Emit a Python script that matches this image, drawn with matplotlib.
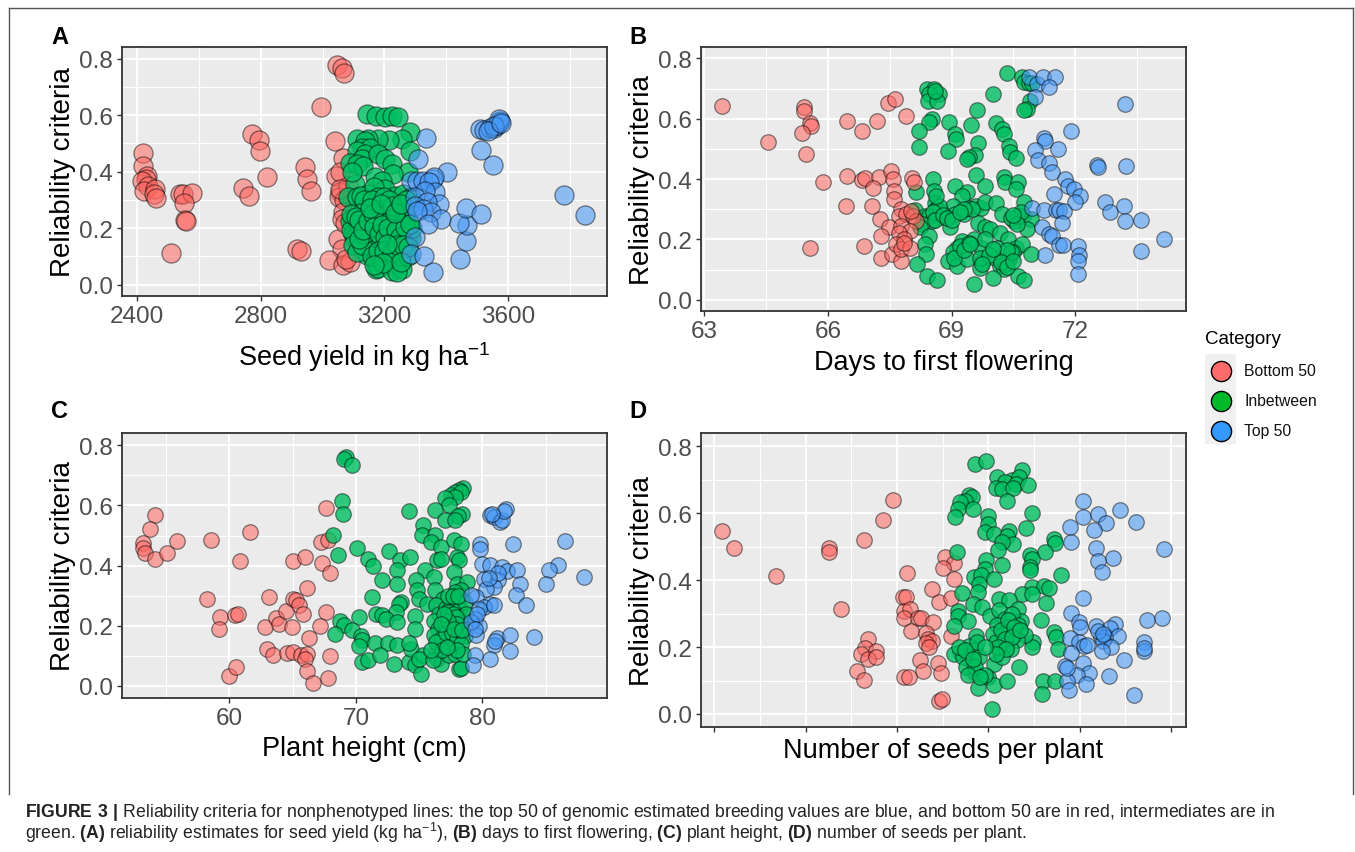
import matplotlib
matplotlib.use('Agg')
import matplotlib.pyplot as plt
from matplotlib.lines import Line2D

plt.rcParams['font.family'] = ['Liberation Sans', 'DejaVu Sans']
plt.rcParams['mathtext.fontset'] = 'custom'
plt.rcParams['mathtext.rm'] = 'Liberation Sans'
plt.rcParams['mathtext.bf'] = 'Liberation Sans:bold'

# values: (trait value, reliability)
yield_bottom = [(2420,.466),(2420,.42),(2433,.385),(2428,.375),(2415,.367),(2437,.35),(2424,.333),(2459,.34),(2454,.32),(2463,.307),
                (2540,.32),(2548,.32),(2578,.323),(2552,.29),(2556,.23),(2558,.226),(2510,.113),(2771,.533),(2795,.513),(2797,.472),
                (2822,.382),(2742,.341),(2763,.313),(2943,.415),(2951,.374),(2963,.333),(2916,.125),(2931,.119),(3048,.776),(3063,.765),
                (3070,.75),(2994,.627),(3039,.509),(3067,.45),(3042,.386),(3057,.40),(3057,.327),(3054,.31),(3070,.30),(3067,.256),
                (3063,.233),(3051,.162),(3064,.127),(3022,.086),(3067,.07),(3089,.08),(3076,.092),(3082,.35),(3072,.22),(3058,.34)]
yield_mid = [(3145,.603),(3173,.597),(3202,.595),(3224,.597),(3245,.594),(3283,.541),(3256,.515),(3215,.511),(3181,.517),(3148,.517),
             (3111,.515),(3138,.509),(3127,.485),(3154,.485),(3111,.474),(3138,.462),(3127,.444),(3283,.474),(3181,.462),(3202,.444),
             (3224,.427),(3089,.432),(3111,.427),(3130,.42),(3278,.397),(3229,.391),(3170,.38),(3191,.368),(3105,.356),(3094,.397),
             (3202,.338),(3235,.315),(3148,.321),(3084,.309),(3111,.309),(3125,.315),(3165,.345),(3260,.32),(3285,.31),(3180,.31),
             (3095,.235),(3100,.215),(3088,.225),(3110,.2),(3098,.18),(3115,.185),(3105,.165),(3122,.21),(3130,.24),(3092,.195),
             (3140,.27),(3150,.245),(3158,.22),(3145,.2),(3155,.18),(3142,.16),(3160,.15),(3150,.125),(3165,.13),(3145,.105),
             (3175,.28),(3185,.255),(3172,.23),(3190,.225),(3178,.2),(3195,.19),(3170,.17),(3188,.16),(3180,.14),(3198,.145),
             (3172,.11),(3190,.115),(3170,.085),(3185,.09),(3172,.055),(3180,.06),(3205,.285),(3215,.265),(3200,.245),(3222,.24),
             (3210,.22),(3228,.21),(3205,.195),(3218,.18),(3232,.175),(3208,.155),(3225,.145),(3212,.125),(3235,.12),(3205,.1),
             (3220,.095),(3238,.09),(3215,.07),(3230,.065),(3245,.07),(3225,.05),(3258,.055),(3240,.045),(3245,.27),(3250,.245),
             (3262,.255),(3242,.225),(3258,.21),(3270,.225),(3248,.19),(3265,.185),(3278,.19),(3245,.16),(3262,.155),(3275,.16),
             (3250,.13),(3268,.125),(3285,.165),(3255,.1),(3275,.1),(3290,.2),(3280,.28),(3270,.3),(3135,.3),(3160,.3),
             (3200,.31),(3215,.3),(3225,.28),(3125,.255),(3100,.14),(3112,.115),(3128,.14),(3135,.18),(3138,.225),(3118,.16),
             (3092,.25),(3108,.24),(3118,.23),(3132,.195),(3148,.225),(3162,.25),(3168,.205),(3183,.18),(3193,.21),(3203,.17),
             (3212,.2),(3238,.195),(3252,.17),(3268,.205),(3282,.215),(3155,.27),(3188,.285),(3235,.255),(3255,.285),(3160,.1),
             (3178,.12),(3198,.12),(3225,.115),(3242,.14),(3260,.14),(3278,.135),(3197,.075),(3255,.08),(3165,.07),(3210,.145)]
yield_top = [(3335,.519),(3310,.445),(3402,.40),(3287,.368),(3306,.368),(3325,.368),(3357,.374),(3361,.382),(3344,.362),(3364,.327),
             (3332,.333),(3300,.309),(3376,.286),(3338,.292),(3300,.28),(3325,.268),(3351,.256),(3306,.262),(3383,.233),(3342,.215),
             (3300,.168),(3287,.109),(3329,.101),(3357,.045),(3444,.092),(3463,.156),(3466,.212),(3440,.219),(3463,.272),(3514,.251),
             (3781,.319),(3849,.245),(3514,.476),(3551,.424),(3510,.551),(3523,.548),(3542,.553),(3555,.556),(3565,.565),(3570,.574),
             (3575,.58),(3570,.586),(3555,.562),(3536,.545),(3578,.572)]

flower_bottom = [(63.43,.643),(64.54,.524),(65.43,.638),(65.43,.627),(65.56,.586),(65.58,.575),(65.38,.552),(65.48,.482),(65.87,.389),(65.56,.173),
                 (66.47,.592),(66.82,.558),(67.19,.592),(67.47,.654),(67.63,.665),(67.89,.61),(66.47,.409),(66.82,.398),(66.89,.404),(67.23,.407),
                 (67.53,.427),(67.57,.40),(68.03,.405),(68.1,.391),(67.1,.372),(67.61,.361),(67.61,.334),(66.44,.312),(67.06,.312),(67.27,.267),
                 (67.78,.30),(67.72,.278),(67.9,.285),(68.07,.278),(68.13,.262),(68.02,.295),(67.49,.24),(67.78,.245),(68.0,.228),(67.72,.223),
                 (67.29,.21),(67.84,.201),(66.87,.179),(67.29,.14),(67.55,.151),(67.78,.129),(67.66,.185),(67.78,.168),(67.98,.173),(67.84,.19)]
flower_mid = [(70.35,.751),(70.71,.74),(70.76,.723),(70.87,.72),(70.96,.718),(70.0,.682),(69.62,.629),(70.9,.66),(70.83,.632),(70.76,.629),
              (68.4,.698),(68.57,.70),(68.69,.682),(68.46,.682),(68.44,.66),(68.65,.66),(68.6,.693),(68.52,.599),(68.46,.59),(68.2,.558),
              (68.2,.508),(68.95,.59),(69.09,.549),(69.11,.533),(68.92,.494),(69.48,.579),(69.65,.519),(69.56,.48),(69.43,.472),(69.37,.466),
              (70.09,.586),(70.22,.566),(70.28,.549),(70.4,.51),(70.43,.491),(70.57,.469),(68.55,.40),(68.14,.358),(68.57,.361),(69.6,.413),
              (69.8,.378),(70.28,.406),(70.3,.389),(70.62,.389),(70.56,.367),(70.76,.325),(69.09,.378),(69.37,.359),(69.26,.345),(68.12,.298),
              (68.35,.278),(68.46,.278),(68.6,.32),(68.63,.30),(68.69,.273),(68.52,.262),(68.29,.251),(69.03,.312),(69.09,.284),(69.31,.284),
              (69.43,.306),(69.6,.312),(69.71,.306),(69.8,.323),(70.09,.32),(70.22,.284),(70.51,.262),(70.62,.278),(70.74,.278),(70.94,.267),
              (70.68,.29),(70.83,.234),(68.97,.24),(69.65,.256),(69.8,.243),(69.94,.234),(70.17,.223),(70.37,.201),(68.23,.24),(68.46,.212),
              (68.35,.185),(68.37,.151),(68.15,.118),(68.4,.08),(68.65,.066),(69.26,.196),(69.54,.201),(69.14,.173),(69.03,.157),(68.92,.129),
              (69.14,.113),(69.37,.135),(69.71,.173),(69.74,.124),(69.69,.107),(70.11,.173),(70.05,.14),(70.17,.113),(70.28,.102),(70.4,.135),
              (70.57,.173),(70.71,.185),(70.94,.151),(70.49,.157),(70.62,.08),(70.76,.066),(70.0,.071),(69.54,.052),(70.3,.12),(70.44,.16),
              (69.2,.18),(69.42,.19),(69.05,.14),(69.7,.14),(68.75,.29),(68.7,.31),(69.5,.3),(69.3,.3),(70.45,.27),(70.6,.25),
              (68.55,.29),(68.6,.265),(68.8,.28),(68.9,.27),(69.0,.265),(69.2,.29),(68.62,.345),(70.5,.28),(70.35,.165),(69.3,.165),
              (69.9,.15),(69.75,.12),(70.2,.125),(70.35,.11),(69.45,.185),(69.8,.2),(70.0,.17),(70.5,.13)]
flower_top = [(70.87,.737),(71.08,.715),(71.23,.74),(71.5,.74),(71.36,.704),(71.02,.671),(73.2,.649),(71.9,.558),(71.25,.535),(71.28,.527),
              (71.03,.496),(71.59,.499),(71.1,.463),(71.36,.455),(71.45,.424),(71.76,.402),(72.52,.448),(72.56,.441),(73.24,.444),(71.82,.378),
              (71.96,.369),(72.12,.345),(71.48,.352),(71.99,.323),(70.96,.303),(71.25,.298),(71.53,.298),(71.62,.298),(71.74,.295),(71.67,.254),
              (71.19,.243),(71.36,.218),(71.44,.21),(71.62,.181),(71.7,.181),(71.27,.148),(72.08,.177),(72.1,.148),(72.08,.129),(72.08,.085),
              (72.73,.323),(72.84,.292),(73.18,.312),(73.2,.262),(73.61,.265),(73.61,.162),(74.15,.201)]

height_bottom = [(54.13,.567),(53.69,.521),(53.19,.476),(53.13,.459),(53.28,.443),(54.13,.421),(55.09,.443),(55.84,.481),(58.53,.486),(61.63,.512),
                 (60.81,.417),(58.19,.288),(59.28,.229),(59.16,.188),(60.47,.237),(60.69,.24),(60.0,.033),(60.53,.062),(63.13,.296),(62.81,.197),
                 (63.66,.226),(63.91,.207),(64.47,.249),(64.94,.197),(65.06,.417),(66.0,.429),(65.0,.29),(65.25,.285),(65.47,.268),(65.84,.24),
                 (66.09,.326),(67.66,.593),(67.25,.479),(67.75,.484),(67.34,.41),(67.97,.376),(67.66,.246),(67.13,.199),(66.25,.16),(62.97,.122),
                 (63.44,.104),(64.53,.11),(65.06,.113),(65.63,.102),(66.09,.107),(66.0,.091),(66.09,.051),(67.97,.1),(67.81,.027),(66.63,.009)]
height_mid = [(69.22,.761),(69.06,.756),(69.69,.736),(68.91,.615),(69.0,.572),(68.22,.501),(68.59,.434),(78.5,.659),(78.13,.653),(77.81,.645),
              (77.5,.636),(78.28,.645),(77.81,.628),(77.03,.625),(77.34,.6),(76.25,.585),(74.22,.581),(78.41,.571),(78.03,.565),(77.03,.553),
              (77.81,.551),(75.31,.534),(75.25,.501),(76.25,.501),(75.94,.479),(76.72,.462),(77.75,.484),(78.28,.473),(70.09,.459),(70.94,.423),
              (71.34,.399),(72.59,.448),(73.47,.418),(74.31,.429),(73.28,.384),(72.03,.353),(73.28,.338),(71.25,.296),(76.41,.418),(76.72,.421),
              (77.97,.429),(78.13,.418),(75.47,.387),(76.16,.362),(74.75,.353),(77.75,.379),(73.59,.279),(73.44,.274),(73.13,.246),(74.84,.318),
              (75.0,.29),(75.63,.274),(76.25,.318),(76.88,.29),(77.97,.34),(78.75,.346),(78.28,.318),(77.81,.312),(74.69,.233),(74.63,.191),
              (70.22,.229),(68.75,.216),(69.06,.202),(68.38,.172),(69.69,.185),(70.38,.166),(70.47,.152),(70.25,.133),(71.5,.143),(71.56,.24),
              (72.09,.235),(72.34,.224),(73.28,.213),(72.56,.143),(73.22,.137),(70.47,.08),(70.94,.085),(71.88,.104),(72.97,.074),(74.22,.08),
              (74.38,.124),(74.22,.144),(74.69,.069),(75.16,.041),(75.31,.102),(75.0,.091),(76.41,.091),(76.72,.074),(76.1,.085),(78.13,.058),
              (78.28,.06),(77.34,.102),(77.81,.107),(76.41,.135),(77.5,.145),(78.6,.165),(76.3,.27),(76.6,.24),(76.2,.215),(76.5,.19),
              (76.15,.17),(76.8,.16),(76.3,.145),(77.1,.26),(77.3,.235),(77.05,.21),(77.4,.19),(77.1,.175),(77.5,.27),(77.7,.25),
              (77.55,.225),(77.85,.205),(77.6,.175),(77.95,.16),(78.0,.28),(78.2,.255),(78.05,.23),(78.35,.21),(78.15,.185),(78.3,.14),
              (78.5,.105),(77.95,.12),(78.65,.28),(78.7,.24),(77.3,.3),(77.7,.3),(78.1,.3),(76.8,.12),(77.2,.13),(75.9,.12),
              (77.25,.245),(77.45,.22),(77.7,.24),(77.9,.23),(78.0,.205),(77.3,.215),(76.95,.24),(76.7,.205),(77.75,.19),(78.4,.185)]
height_top = [(79.78,.473),(79.84,.456),(82.44,.473),(86.56,.481),(88.06,.362),(85.94,.401),(85.25,.384),(85.0,.338),(80.63,.567),(80.94,.562),
              (81.41,.545),(81.56,.551),(81.88,.587),(81.72,.581),(80.78,.573),(79.94,.407),(80.63,.401),(81.56,.396),(81.94,.381),(82.75,.384),
              (80.16,.357),(81.25,.351),(82.97,.34),(82.66,.304),(83.44,.27),(80.94,.329),(80.31,.324),(79.53,.296),(79.06,.302),(80.63,.274),
              (80.16,.263),(79.69,.257),(79.38,.224),(79.69,.199),(79.53,.168),(79.06,.213),(81.19,.16),(80.94,.135),(82.19,.168),(82.19,.115),
              (80.63,.091),(79.38,.102),(79.28,.069),(84.06,.163),(81.2,.375),(80.5,.36),(79.6,.24),(80.9,.27),(79.4,.19),(81.0,.15)]

seeds_bottom = [(8.7,.546),(21.6,.496),(67.2,.412),(125.3,.496),(125.3,.484),(139.1,.314),(163.8,.52),(185.3,.581),(195.6,.64),(211.5,.421),
                (252.6,.47),(262.3,.452),(251,.437),(262.3,.404),(238.2,.374),(245.9,.334),(258.7,.346),(206.4,.349),(209.9,.349),(207.4,.309),
                (214.1,.314),(207.4,.286),(222.8,.286),(226.9,.286),(239.7,.276),(215.1,.247),(231.5,.242),(258.7,.232),(234.6,.224),(238.2,.219),
                (231.5,.212),(235.6,.199),(167.9,.224),(164.8,.196),(176.6,.189),(161.2,.179),(168.9,.164),(176.6,.169),(156.1,.129),(163.8,.101),
                (225.4,.161),(244.9,.152),(229,.127),(248.5,.121),(207.4,.109),(213.6,.109),(245.9,.039),(249.5,.044)]
seeds_mid = [(285.4,.747),(297.2,.757),(336.8,.73),(310,.708),(325.5,.698),(333.2,.708),(318.8,.693),(309,.675),(315.2,.673),(330.6,.688),
             (327,.675),(343.4,.685),(320.3,.638),(279.3,.655),(281.8,.648),(274.1,.638),(269,.633),(266.4,.613),(282.9,.613),(263.9,.588),
             (299.8,.593),(299.8,.568),(296.2,.545),(306.5,.538),(347.5,.6),(340.9,.555),(322.9,.548),(320.3,.533),(327,.508),(315.2,.513),
             (310.6,.491),(372.2,.523),(373.2,.511),(362.4,.484),(346,.474),(347.5,.464),(346,.439),(346,.429),(265.4,.484),(297.2,.459),
             (296.2,.434),(315.2,.444),(284.4,.409),(292.1,.414),(306.5,.404),(379.4,.416),(289.5,.389),(288.5,.364),(271.6,.362),(347.5,.379),
             (361.4,.382),(366.5,.377),(337.3,.359),(347.5,.359),(363,.331),(282.9,.329),(293.1,.319),(266.4,.309),(266.4,.294),(277.7,.277),
             (262.3,.262),(302.4,.294),(311.5,.344),(322.9,.342),(332.1,.314),(335.7,.279),(357.8,.281),(371.7,.244),(374.2,.229),(376.8,.194),
             (348.6,.214),(347.5,.199),(287,.234),(279.3,.204),(269,.184),(279.5,.16),(284.4,.124),(288.5,.079),(299.8,.109),(306.5,.086),
             (320.3,.099),(333.2,.141),(306.5,.149),(360.4,.099),(373.2,.099),(358.8,.059),(303.9,.016),(312,.31),(318,.285),(326,.3),
             (310,.265),(322,.26),(333,.265),(305,.24),(316,.235),(328,.24),(340,.235),(308,.215),(320,.21),(332,.22),
             (312,.19),(325,.195),(315,.17),(262,.18),(272,.17),(285,.19),(290,.17),(276,.14),(285,.14),(296,.115),
             (314,.25),(322,.28),(328,.26),(318,.225),(326,.23),(335,.25),(311,.2),(319,.195),(309,.18),(288,.215),
             (296,.2),(268,.2),(275,.19),(283,.165),(278,.115),(291,.11)]
seeds_top = [(403.5,.636),(404,.59),(420.4,.598),(429.2,.57),(444.6,.61),(461.5,.573),(389.6,.558),(390.7,.515),(416.3,.551),(417.9,.497),
             (436.9,.466),(420.4,.456),(424.5,.424),(492.3,.494),(403.5,.346),(390.7,.301),(398.9,.274),(400.9,.259),(417.9,.262),(438.4,.269),
             (433.3,.256),(442,.234),(423,.229),(428,.229),(425.6,.219),(434.8,.201),(424.5,.189),(420.4,.249),(389.6,.226),(399.9,.214),
             (405,.204),(390.7,.182),(403.5,.152),(384.5,.142),(410.2,.122),(397.3,.116),(386,.099),(388.6,.071),(406.6,.089),(431.7,.114),
             (448.7,.16),(460,.056),(470.7,.214),(470.7,.189),(470.7,.196),(474.3,.281),(489.7,.288),(386,.138),(426,.24),(408,.205)]

categories = ['Bottom 50', 'Inbetween', 'Top 50']
point_colors = [(1.0, 0.40, 0.38, 0.55), (0.0, 0.75, 0.38, 0.8), (0.28, 0.60, 0.97, 0.58)]
key_colors = ['#ff6b6b', '#00ba2c', '#3399ff']
edge = (0, 0, 0, 0.48)

W, H = 1355, 853
fig = plt.figure(figsize=(W / 100, H / 100), dpi=100, facecolor='white')


# axes from pixel box, y measured from the top of the image
def pixel_axes(left, top, right, bottom):
    return fig.add_axes([left / W, 1 - bottom / H, (right - left) / W, (bottom - top) / H])


def panel(box, data, xlim, ylim, xticks, xminor, xlabel, letter, letter_xy, size, xpad, ticklabels=True):
    ax = pixel_axes(*box)
    ax.set_facecolor('#ebebeb')
    for rows, col in data:
        xs, ys = zip(*rows)
        ax.scatter(xs, ys, s=size, facecolor=col, edgecolor=edge, linewidth=0.9, zorder=3)
    ax.set_xlim(*xlim)
    ax.set_ylim(*ylim)
    ax.set_xticks(xticks)
    ax.set_xticks(xminor, minor=True)
    ax.set_yticks([0, .2, .4, .6, .8])
    ax.set_yticklabels(['0.0', '0.2', '0.4', '0.6', '0.8'])
    ax.set_yticks([.1, .3, .5, .7], minor=True)
    if not ticklabels:
        ax.set_xticklabels([])
    ax.grid(True, which='major', color='white', linewidth=1.3, zorder=1)
    ax.grid(True, which='minor', color='white', linewidth=0.8, zorder=1)
    ax.set_axisbelow(True)
    ax.tick_params(which='minor', length=0)
    ax.tick_params(which='major', length=3.5, width=1, color='#333333', labelsize=17.5, labelcolor='#4d4d4d', pad=3)
    for s in ax.spines.values():
        s.set_color('#333333')
        s.set_linewidth(1.3)
    ax.set_xlabel(xlabel, fontsize=19.5, color='black', labelpad=xpad)
    ax.set_ylabel('Reliability criteria', fontsize=20, color='black', labelpad=2)
    fig.text(letter_xy[0] / W, 1 - letter_xy[1] / H, letter, fontsize=17, fontweight='bold', va='center', ha='left')
    return ax


a = panel((122, 48, 607, 297), [(yield_bottom, point_colors[0]), (yield_mid, point_colors[1]), (yield_top, point_colors[2])],
          (2351.5, 3920), (-0.04, 0.841), [2400, 2800, 3200, 3600], [2600, 3000, 3400, 3800],
          'Seed yield in kg ha$^{-1}$', 'A', (51, 37), 190, 9)
b = panel((701, 48, 1186, 312), [(flower_mid, point_colors[1]), (flower_bottom, point_colors[0]), (flower_top, point_colors[2])],
          (62.92, 74.69), (-0.037, 0.838), [63, 66, 69, 72], [64.5, 67.5, 70.5, 73.5],
          'Days to first flowering', 'B', (629, 37), 125, 5)
c = panel((122, 434, 607, 699), [(height_bottom, point_colors[0]), (height_mid, point_colors[1]), (height_top, point_colors[2])],
          (51.5, 89.85), (-0.04, 0.841), [60, 70, 80], [55, 65, 75, 85],
          'Plant height (cm)', 'C', (51, 412), 125, 4)
d = panel((701, 434, 1186, 728), [(seeds_bottom, point_colors[0]), (seeds_mid, point_colors[1]), (seeds_top, point_colors[2])],
          (-14.45, 516.5), (-0.039, 0.84), [0, 100, 200, 300, 400, 500], [50, 150, 250, 350, 450],
          'Number of seeds per plant', 'D', (629, 412), 125, 1, ticklabels=False)

# legend, keys on a grey strip like ggplot
leg = pixel_axes(1205, 355, 1236, 445)
leg.set_xlim(0, 1)
leg.set_ylim(3, 0)
leg.axis('off')
leg.add_patch(plt.Rectangle((0, 0), 1, 3, color='#f0f0f0', zorder=0))
for i, name in enumerate(categories):
    leg.add_line(Line2D([0.5], [i + 0.55], marker='o', markersize=14.5, markerfacecolor=key_colors[i],
                        markeredgecolor='black', markeredgewidth=1, zorder=2))
    leg.text(1.26, i + 0.55, name, fontsize=11.3, va='center', ha='left', clip_on=False, color='#111111')
fig.text(1205 / W, 1 - 339 / H, 'Category', fontsize=13.5, va='center', ha='left')

# frame around the figure, open at the bottom
frame = dict(color='#555555', linewidth=1, transform=fig.transFigure)
fig.add_artist(Line2D([9 / W, 9 / W], [1 - 9 / H, 1 - 795 / H], **frame))
fig.add_artist(Line2D([9 / W, 1353 / W], [1 - 9 / H, 1 - 9 / H], **frame))
fig.add_artist(Line2D([1353 / W, 1353 / W], [1 - 9 / H, 1 - 795 / H], **frame))

caption1 = (r'$\mathbf{FIGURE\ 3\ |}$ Reliability criteria for nonphenotyped lines: the top 50 of genomic estimated '
            'breeding values are blue, and bottom 50 are in red, intermediates are in')
caption2 = (r'green. $\mathbf{(A)}$ reliability estimates for seed yield (kg ha$^{-1}$), $\mathbf{(B)}$ days to first flowering, '
            r'$\mathbf{(C)}$ plant height, $\mathbf{(D)}$ number of seeds per plant.')
fig.text(25 / W, 1 - 817 / H, caption1, fontsize=12.7, color='#222222', va='baseline', ha='left')
fig.text(25 / W, 1 - 839 / H, caption2, fontsize=12.7, color='#222222', va='baseline', ha='left')

fig.savefig('out.png', dpi=100)
